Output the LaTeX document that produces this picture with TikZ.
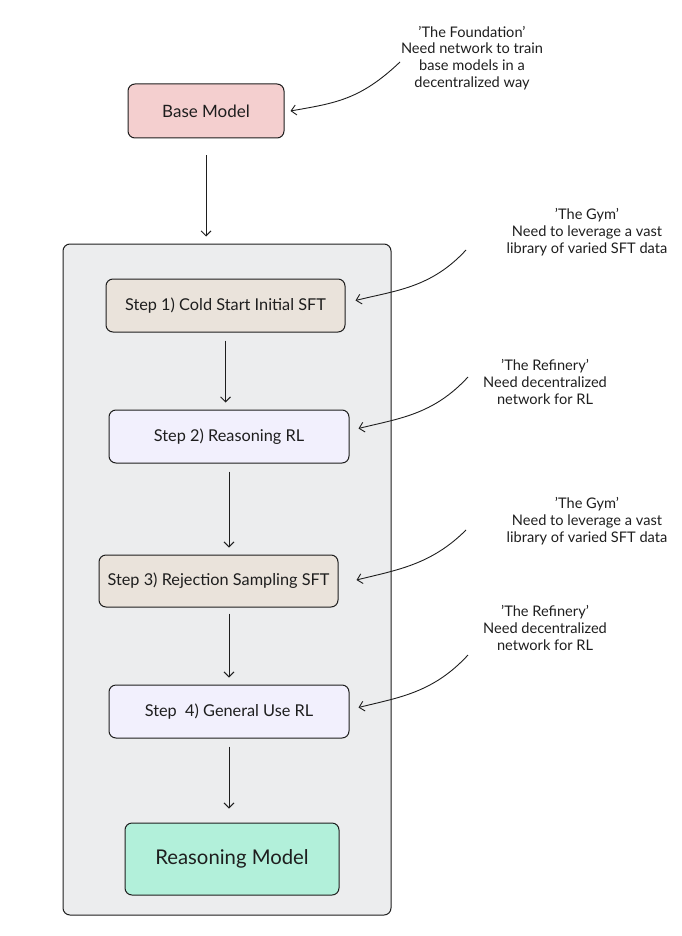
\documentclass[tikz,border=0pt]{standalone}
\usepackage{fontspec}
\setmainfont{Lato}
\usetikzlibrary{arrows.meta}
\definecolor{ink}{HTML}{1E1E1E}
\definecolor{panel}{HTML}{ECEDEE}
\definecolor{basefill}{HTML}{F4CFCF}
\definecolor{sftfill}{HTML}{EAE3DB}
\definecolor{rlfill}{HTML}{F2F0FD}
\definecolor{outfill}{HTML}{B2F0DA}

\begin{document}
\begin{tikzpicture}[x=1pt,y=-1pt]
  \tikzstyle{every node}+=[inner sep=0pt, text=ink]
  \tikzstyle{box}=[draw=ink, line width=1pt, rounded corners=7pt, font=\fontsize{16.3}{19}\selectfont]
  \tikzstyle{note}=[align=center, font=\fontsize{14.6}{16.7}\selectfont]
  \tikzstyle{flow}=[draw=ink, line width=0.9pt, -{Straight Barb[length=5pt,width=10pt]}]
  \useasboundingbox (0,0) rectangle (681,936);

  % grey panel behind the steps
  \node[box, fill=panel, minimum width=328pt, minimum height=671pt] (pipeline) at (227,579.5) {};

  \node[box, fill=basefill, minimum width=156pt, minimum height=54pt, font=\fontsize{17}{20}\selectfont] (base) at (206,111) {Base Model};
  \node[box, fill=sftfill, minimum width=239pt, minimum height=53pt] (s1) at (225.5,305.5) {Step 1) Cold Start Initial SFT};
  \node[box, fill=rlfill, minimum width=240pt, minimum height=53pt] (s2) at (229,436.5) {Step 2) Reasoning RL};
  \node[box, fill=sftfill, minimum width=239pt, minimum height=52pt] (s3) at (218.5,581) {Step 3) Rejection Sampling SFT};
  \node[box, fill=rlfill, minimum width=240pt, minimum height=53pt] (s4) at (229,711.5) {Step\ \ 4) General Use RL};
  \node[box, fill=outfill, minimum width=214pt, minimum height=72pt, font=\fontsize{20.3}{24}\selectfont] (out) at (232,859) {Reasoning Model};

  % notes on the right
  \node[note] (fdn) at (472,58) {'The Foundation'\\Need network to train\\base models in a\\decentralized way};
  \node[note] (gym1) at (587,232) {'The Gym'\\Need to leverage a vast\\library of varied SFT data};
  \node[note] (ref1) at (545,382) {'The Refinery'\\Need decentralized\\network for RL};
  \node[note] (gym2) at (587,521) {'The Gym'\\Need to leverage a vast\\library of varied SFT data};
  \node[note] (ref2) at (545,628) {'The Refinery'\\Need decentralized\\network for RL};

  \coordinate (fdnTail) at (400,62);
  \coordinate (gym1Tail) at (466,250);
  \coordinate (ref1Tail) at (468,377);
  \coordinate (gym2Tail) at (466,530);
  \coordinate (ref2Tail) at (468,655);

  % main flow
  \draw[flow, shorten <=17pt, shorten >=7pt] (base.south) -- (base.south |- pipeline.north);
  \draw[flow, shorten <=8pt, shorten >=7pt] (s1.south) -- (s1.south |- s2.north);
  \draw[flow, shorten <=8pt, shorten >=7pt] (s2.south) -- (s2.south |- s3.north);
  \draw[flow, shorten <=6pt, shorten >=7pt] (s3.south -| s4.north) -- (s4.north);
  \draw[flow, shorten <=8pt, shorten >=14pt] (s4.south) -- (s4.south |- out.north);

  % notes to boxes
  \draw[flow] (fdnTail) .. controls +(-40,38) and +(45,-8) .. ([xshift=6pt]base.east);
  \draw[flow] (gym1Tail) .. controls +(-35,38) and +(40,-10) .. ([xshift=10pt,yshift=5pt]s1.east);
  \draw[flow] (ref1Tail) .. controls +(-35,38) and +(40,-10) .. ([xshift=9pt,yshift=8pt]s2.east);
  \draw[flow] (gym2Tail) .. controls +(-35,35) and +(40,-10) .. ([xshift=18pt,yshift=1pt]s3.east);
  \draw[flow] (ref2Tail) .. controls +(-35,38) and +(40,-10) .. ([xshift=9pt,yshift=4pt]s4.east);
\end{tikzpicture}
\end{document}
